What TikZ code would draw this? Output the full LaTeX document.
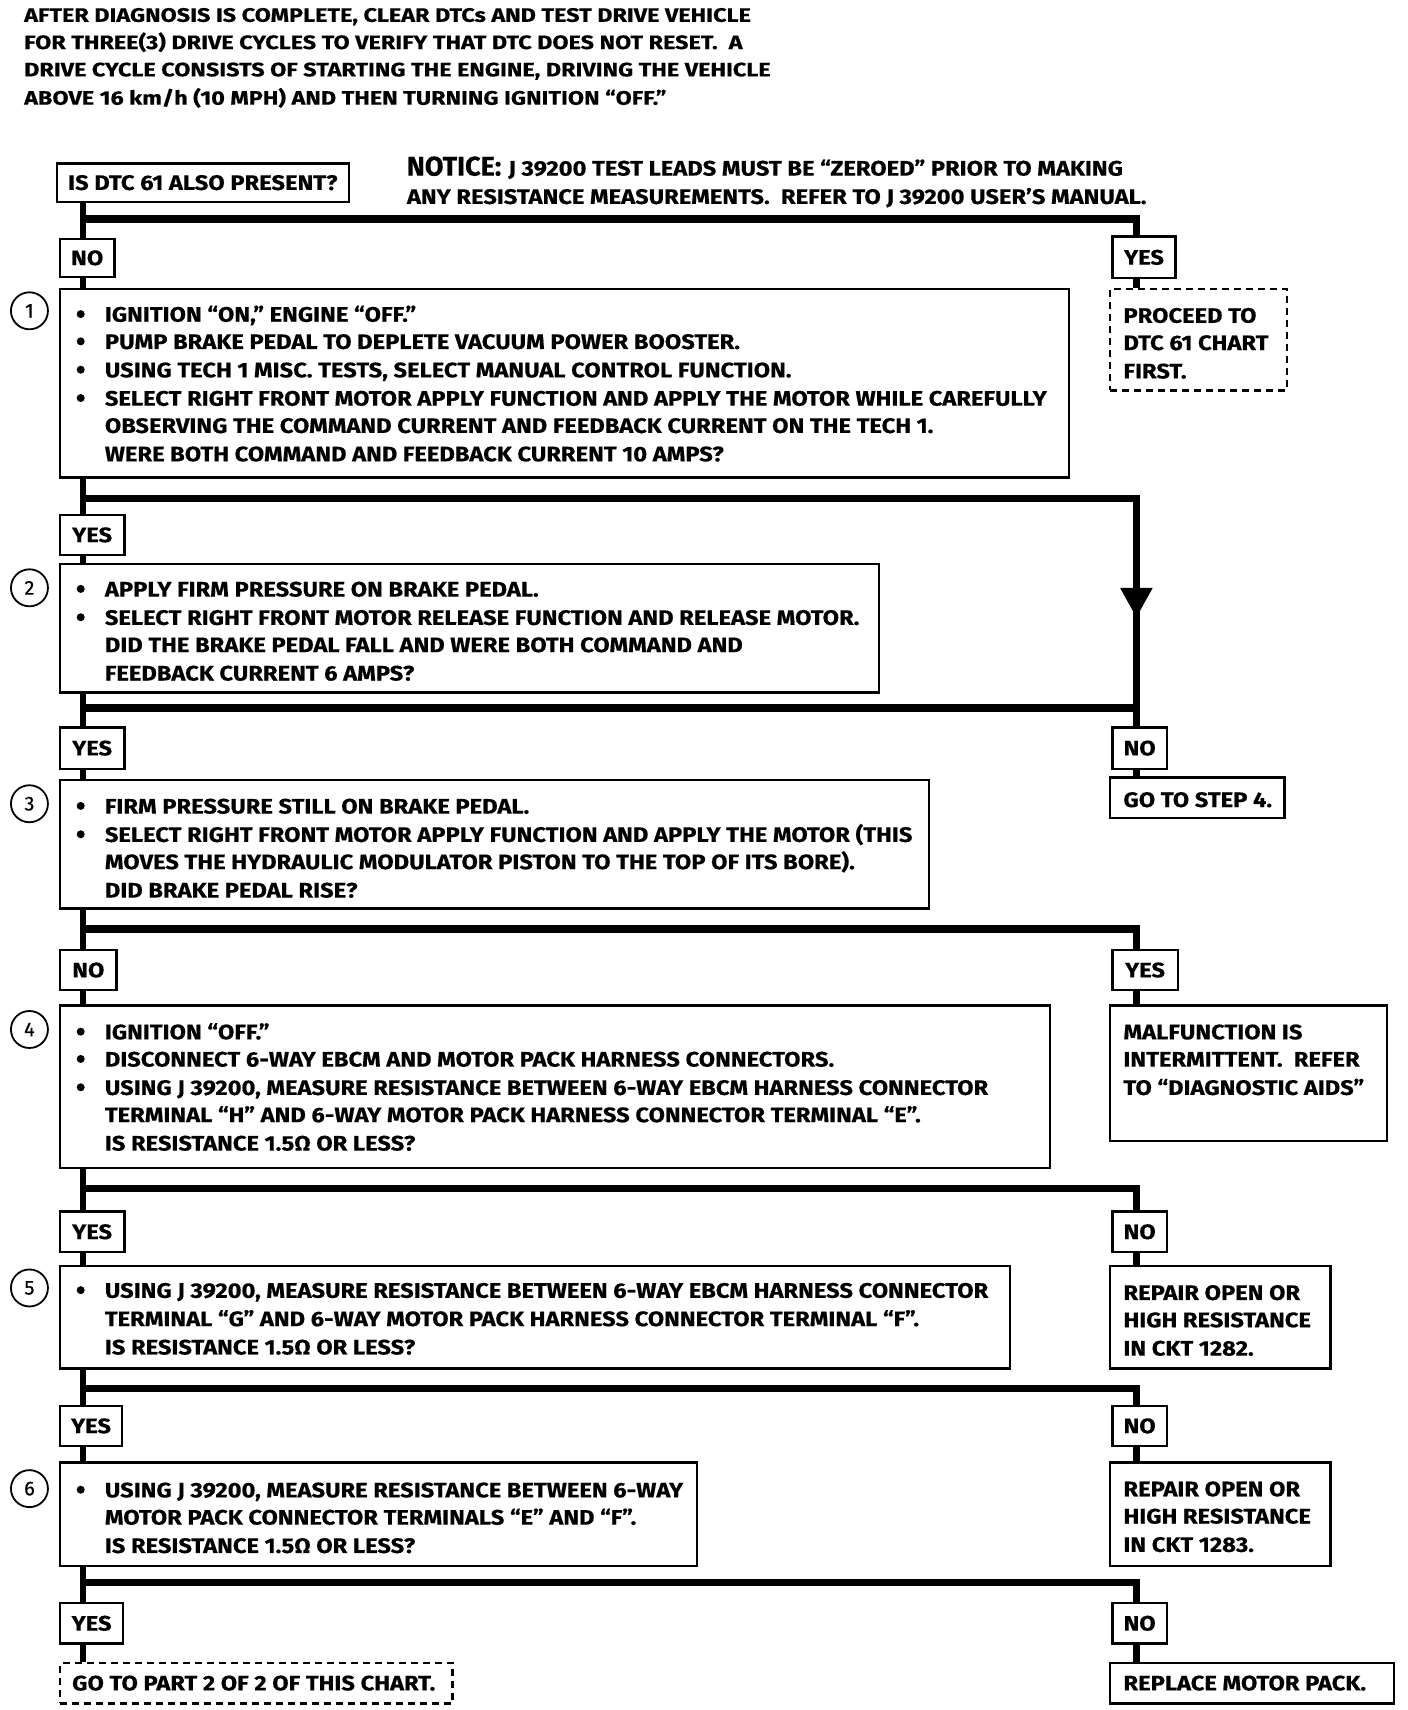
\documentclass[tikz,border=0pt]{standalone}
\usepackage{fontspec}
\setmainfont{Fira Sans}
\newfontfamily\bodyf{Fira Sans}[FakeStretch=1.13,FakeBold=0.4]
\newfontfamily\hdrf{Fira Sans}[FakeStretch=1.2,FakeBold=0.4]
\newfontfamily\notf{Fira Sans}[FakeStretch=1.0,FakeBold=0.4]
\usetikzlibrary{fit}
\newcommand{\tl}[4]{\node[txt,anchor=base west] (#1) at (#2,#3) {#4};}
\newcommand{\hl}[4]{\node[hdr,anchor=base west] (#1) at (#2,#3) {#4};}
\newcommand{\bu}[3]{\node[bul] (#1) at (#2,#3) {};}
\begin{document}
\begin{tikzpicture}[x=1.0906pt,y=-1.0906pt,
  txt/.style={inner sep=0pt,font=\bodyf\fontsize{21}{25}\selectfont\bfseries},
  hdr/.style={inner sep=0pt,font=\hdrf\fontsize{19.5}{24}\selectfont\bfseries},
  box/.style={draw,line width=2.4pt,inner sep=0pt},
  dbox/.style={draw,line width=2.2pt,inner sep=0pt,dash pattern=on 7pt off 5pt},
  lab/.style={draw,line width=2.4pt,inner sep=0pt,fill=white},
  bul/.style={circle,fill,inner sep=0pt,minimum size=8pt},
  num/.style={circle,draw,line width=1.8pt,inner sep=0pt,minimum size=37pt,font=\notf\fontsize{20}{24}\selectfont},
  vline/.style={line width=6.5pt},
  bar/.style={line width=7.5pt,line join=miter}]
\useasboundingbox (0,0) rectangle (1291,1568);
% header
\hl{h1}{22}{20}{AFTER DIAGNOSIS IS COMPLETE, CLEAR DTCs AND TEST DRIVE VEHICLE}
\hl{h2}{22}{45}{FOR THREE(3) DRIVE CYCLES TO VERIFY THAT DTC DOES NOT RESET.\ \ A}
\hl{h3}{22}{70}{DRIVE CYCLE CONSISTS OF STARTING THE ENGINE, DRIVING THE VEHICLE}
\hl{h4}{22}{96}{ABOVE 16 km/h (10 MPH) AND THEN TURNING IGNITION “OFF.”}
% notice
\node[inner sep=0pt,anchor=base west,font=\notf\fontsize{27}{30}\selectfont\bfseries] (nt) at (373,161) {NOTICE:};
\tl{nt1}{466}{161}{J 39200 TEST LEADS MUST BE “ZEROED” PRIOR TO MAKING}
\tl{nt2}{373}{187}{ANY RESISTANCE MEASUREMENTS.\ \ REFER TO J 39200 USER’S MANUAL.}
% first question
\node[box,fit={(52,150) (320,185)}] (q) {};
\node[txt] (qt) at (q.center) {IS DTC 61 ALSO PRESENT?};
% trunk coordinates
\coordinate (tx) at (76,0);
\coordinate (rx) at (1042,0);
\foreach \n/\y in {1/201,2/457,3/649,4/852,5/1090,6/1273,7/1451}{
  \coordinate (b\n l) at (76,\y);
  \coordinate (b\n r) at (1042,\y);
}
% label boxes
\node[lab,fit={(55,219) (105,254)}] (no1) {};
\node[txt] at (no1.center) (no1t) {NO};
\node[lab,fit={(55,472) (114,509)}] (yes2) {};
\node[txt] at (yes2.center) (yes2t) {YES};
\node[lab,fit={(55,667) (114,705)}] (yes3) {};
\node[txt] at (yes3.center) (yes3t) {YES};
\node[lab,fit={(55,871) (107,908)}] (no4) {};
\node[txt] at (no4.center) (no4t) {NO};
\node[lab,fit={(55,1111) (114,1148)}] (yes5) {};
\node[txt] at (yes5.center) (yes5t) {YES};
\node[lab,fit={(55,1289) (112,1326)}] (yes6) {};
\node[txt] at (yes6.center) (yes6t) {YES};
\node[lab,fit={(55,1470) (113,1507)}] (yes7) {};
\node[txt] at (yes7.center) (yes7t) {YES};
\node[lab,fit={(1020,217) (1078,255)}] (ryes1) {};
\node[txt] at (ryes1.center) (ryes1t) {YES};
\node[lab,fit={(1020,667) (1070,705)}] (rno3) {};
\node[txt] at (rno3.center) (rno3t) {NO};
\node[lab,fit={(1020,871) (1080,908)}] (ryes4) {};
\node[txt] at (ryes4.center) (ryes4t) {YES};
\node[lab,fit={(1020,1111) (1070,1148)}] (rno5) {};
\node[txt] at (rno5.center) (rno5t) {NO};
\node[lab,fit={(1020,1289) (1070,1326)}] (rno6) {};
\node[txt] at (rno6.center) (rno6t) {NO};
\node[lab,fit={(1020,1470) (1070,1507)}] (rno7) {};
\node[txt] at (rno7.center) (rno7t) {NO};
% step boxes
\node[box,fit={(55,265) (980,438)}] (s1) {};
\node[box,fit={(55,517) (806,635)}] (s2) {};
\node[box,fit={(55,715) (852,833)}] (s3) {};
\node[box,fit={(55,922) (963,1071)}] (s4) {};
\node[box,fit={(55,1161) (926,1255)}] (s5) {};
\node[box,fit={(55,1341) (639,1436)}] (s6) {};
% right result boxes
\node[dbox,fit={(1018,265) (1180,358)}] (dtc) {};
\node[box,fit={(1018,713) (1178,750)}] (go4) {};
\node[box,fit={(1018,922) (1272,1046)}] (malf) {};
\node[box,fit={(1018,1161) (1220,1255)}] (rep1) {};
\node[box,fit={(1018,1341) (1220,1436)}] (rep2) {};
\node[dbox,fit={(55,1525) (415,1562)}] (part2) {};
\node[box,fit={(1018,1525) (1278,1562)}] (repl) {};
% circles
\foreach \n/\y in {1/285,2/539,3/737,4/944,5/1181,6/1365}{
  \node[num] (c\n) at (27,\y) {\n};
}
% step 1 text
\bu{s1b1}{74}{288}\tl{s1a}{96}{295}{IGNITION “ON,” ENGINE “OFF.”}
\bu{s1b2}{74}{313}\tl{s1b}{96}{320}{PUMP BRAKE PEDAL TO DEPLETE VACUUM POWER BOOSTER.}
\bu{s1b3}{74}{339}\tl{s1c}{96}{346}{USING TECH 1 MISC. TESTS, SELECT MANUAL CONTROL FUNCTION.}
\bu{s1b4}{74}{365}\tl{s1d}{96}{372}{SELECT RIGHT FRONT MOTOR APPLY FUNCTION AND APPLY THE MOTOR WHILE CAREFULLY}
\tl{s1e}{96}{397}{OBSERVING THE COMMAND CURRENT AND FEEDBACK CURRENT ON THE TECH 1.}
\tl{s1f}{96}{423}{WERE BOTH COMMAND AND FEEDBACK CURRENT 10 AMPS?}
% step 2
\bu{s2b1}{74}{540}\tl{s2a}{96}{547}{APPLY FIRM PRESSURE ON BRAKE PEDAL.}
\bu{s2b2}{74}{566}\tl{s2b}{96}{573}{SELECT RIGHT FRONT MOTOR RELEASE FUNCTION AND RELEASE MOTOR.}
\tl{s2c}{96}{598}{DID THE BRAKE PEDAL FALL AND WERE BOTH COMMAND AND}
\tl{s2d}{96}{624}{FEEDBACK CURRENT 6 AMPS?}
% step 3
\bu{s3b1}{74}{739}\tl{s3a}{96}{746}{FIRM PRESSURE STILL ON BRAKE PEDAL.}
\bu{s3b2}{74}{765}\tl{s3b}{96}{772}{SELECT RIGHT FRONT MOTOR APPLY FUNCTION AND APPLY THE MOTOR (THIS}
\tl{s3c}{96}{797}{MOVES THE HYDRAULIC MODULATOR PISTON TO THE TOP OF ITS BORE).}
\tl{s3d}{96}{823}{DID BRAKE PEDAL RISE?}
% step 4
\bu{s4b1}{74}{946}\tl{s4a}{96}{953}{IGNITION “OFF.”}
\bu{s4b2}{74}{971}\tl{s4b}{96}{978}{DISCONNECT 6-WAY EBCM AND MOTOR PACK HARNESS CONNECTORS.}
\bu{s4b3}{74}{997}\tl{s4c}{96}{1004}{USING J 39200, MEASURE RESISTANCE BETWEEN 6-WAY EBCM HARNESS CONNECTOR}
\tl{s4d}{96}{1029}{TERMINAL “H” AND 6-WAY MOTOR PACK HARNESS CONNECTOR TERMINAL “E”.}
\tl{s4e}{96}{1055}{IS RESISTANCE 1.5Ω OR LESS?}
% step 5
\bu{s5b1}{74}{1183}\tl{s5a}{96}{1190}{USING J 39200, MEASURE RESISTANCE BETWEEN 6-WAY EBCM HARNESS CONNECTOR}
\tl{s5b}{96}{1216}{TERMINAL “G” AND 6-WAY MOTOR PACK HARNESS CONNECTOR TERMINAL “F”.}
\tl{s5c}{96}{1242}{IS RESISTANCE 1.5Ω OR LESS?}
% step 6
\bu{s6b1}{74}{1366}\tl{s6a}{96}{1373}{USING J 39200, MEASURE RESISTANCE BETWEEN 6-WAY}
\tl{s6b}{96}{1398}{MOTOR PACK CONNECTOR TERMINALS “E” AND “F”.}
\tl{s6c}{96}{1424}{IS RESISTANCE 1.5Ω OR LESS?}
% right texts
\tl{dtca}{1030}{296}{PROCEED TO}
\tl{dtcb}{1030}{321}{DTC 61 CHART}
\tl{dtcc}{1030}{347}{FIRST.}
\tl{go4a}{1030}{740}{GO TO STEP 4.}
\tl{malfa}{1030}{953}{MALFUNCTION IS}
\tl{malfb}{1030}{978}{INTERMITTENT.\ \ REFER}
\tl{malfc}{1030}{1004}{TO “DIAGNOSTIC AIDS”}
\tl{rep1a}{1030}{1192}{REPAIR OPEN OR}
\tl{rep1b}{1030}{1217}{HIGH RESISTANCE}
\tl{rep1c}{1030}{1243}{IN CKT 1282.}
\tl{rep2a}{1030}{1372}{REPAIR OPEN OR}
\tl{rep2b}{1030}{1397}{HIGH RESISTANCE}
\tl{rep2c}{1030}{1423}{IN CKT 1283.}
\tl{part2a}{66}{1550}{GO TO PART 2 OF 2 OF THIS CHART.}
\tl{repla}{1030}{1550}{REPLACE MOTOR PACK.}
% left trunk connectors
\draw[vline] (q.south -| tx) -- (no1.north -| tx);
\draw[vline] (no1.south -| tx) -- (s1.north -| tx);
\draw[vline] (s1.south -| tx) -- (yes2.north -| tx);
\draw[vline] (yes2.south -| tx) -- (s2.north -| tx);
\draw[vline] (s2.south -| tx) -- (yes3.north -| tx);
\draw[vline] (yes3.south -| tx) -- (s3.north -| tx);
\draw[vline] (s3.south -| tx) -- (no4.north -| tx);
\draw[vline] (no4.south -| tx) -- (s4.north -| tx);
\draw[vline] (s4.south -| tx) -- (yes5.north -| tx);
\draw[vline] (yes5.south -| tx) -- (s5.north -| tx);
\draw[vline] (s5.south -| tx) -- (yes6.north -| tx);
\draw[vline] (yes6.south -| tx) -- (s6.north -| tx);
\draw[vline] (s6.south -| tx) -- (yes7.north -| tx);
\draw[vline] (yes7.south -| tx) -- (part2.north -| tx);
% bars and right branches
\draw[bar] (b1l) -- (b1r) -- (ryes1.north -| rx);
\draw[vline] (ryes1.south -| rx) -- (dtc.north -| rx);
\draw[bar] (b2l) -- (b2r) -- (b3r);
\draw[bar] (b3l) -- (b3r) -- (rno3.north -| rx);
\fill (1027,539) -- (1057,539) -- (1042,566) -- cycle;
\draw[vline] (rno3.south -| rx) -- (go4.north -| rx);
\draw[bar] (b4l) -- (b4r) -- (ryes4.north -| rx);
\draw[vline] (ryes4.south -| rx) -- (malf.north -| rx);
\draw[bar] (b5l) -- (b5r) -- (rno5.north -| rx);
\draw[vline] (rno5.south -| rx) -- (rep1.north -| rx);
\draw[bar] (b6l) -- (b6r) -- (rno6.north -| rx);
\draw[vline] (rno6.south -| rx) -- (rep2.north -| rx);
\draw[bar] (b7l) -- (b7r) -- (rno7.north -| rx);
\draw[vline] (rno7.south -| rx) -- (repl.north -| rx);
\end{tikzpicture}
\end{document}
